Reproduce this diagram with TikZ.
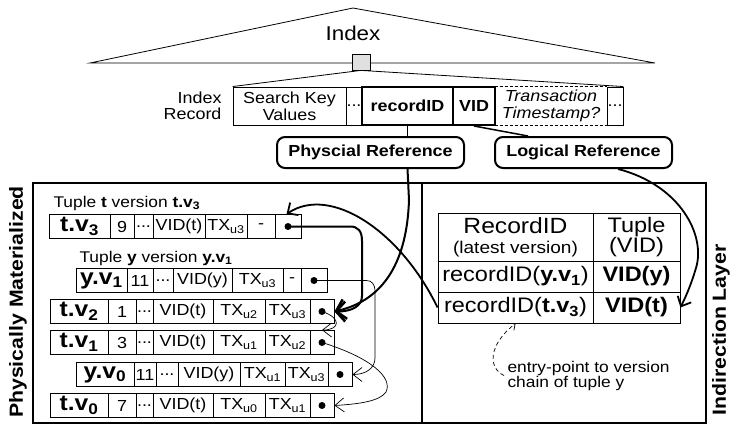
\documentclass[tikz,border=0pt]{standalone}
\usepackage{fontspec}
\setmainfont[FakeStretch=1.12]{Liberation Sans}
\usetikzlibrary{arrows.meta,calc}
\newcommand\tv[2]{{\fontsize{22}{22}\selectfont\textbf{#1.v\textsubscript{#2}}}}
\newcommand\txs[1]{TX\textsubscript{#1}}
\newcommand\dts{.{}.{}.}
\newcommand\tuplerow[3]{%
  \foreach \xa/\xb/\txt [count=\i] in {#3} {
    \node[cell, minimum width={(\xb-\xa)*1pt}] (#1-\i) at ({(\xa+\xb)/2},#2) {\txt};
  }
  \node[dotn] (#1dot) at (#1-7.center) {};
}
\begin{document}
\begin{tikzpicture}[x=1pt,y=-1pt,
  cell/.style={draw, line width=0.9pt, inner sep=0pt, minimum height=24pt, font=\fontsize{16}{18}\selectfont},
  rec/.style={draw, line width=0.9pt, inner sep=0pt, minimum height=38pt, align=center, font=\fontsize{16}{17}\selectfont},
  thickrec/.style={rec, line width=2pt, font=\bfseries\fontsize{16}{17}\selectfont},
  refbox/.style={draw, line width=2pt, rounded corners=8pt, inner sep=0pt, minimum height=31pt, font=\bfseries\fontsize{16}{17}\selectfont},
  tcell/.style={draw, line width=0.9pt, inner sep=0pt, minimum height=31pt, font=\fontsize{21}{21}\selectfont},
  dotn/.style={circle, fill, inner sep=0pt, minimum size=7pt},
  bigptr/.style={line width=2pt, -{Straight Barb[length=9pt,width=20pt,line width=2.5pt]}},
  midptr/.style={line width=1.8pt, -{Straight Barb[length=8pt,width=15pt,line width=1.8pt]}},
  thinptr/.style={line width=0.7pt, -{Straight Barb[length=9pt,width=14pt,line width=0.7pt]}},
  dashptr/.style={line width=0.7pt, dash pattern=on 4pt off 3pt, -{Straight Barb[length=5pt,width=9pt,line width=0.7pt]}},
  sidelabel/.style={rotate=90, font=\bfseries\fontsize{19}{19}\selectfont}
]
\useasboundingbox (0,0) rectangle (737,424);

% ---- Index triangle ----
\draw[line width=0.8pt] (90,63) -- (353,8) -- (655,63) -- cycle;
\node[font=\fontsize{20}{20}\selectfont] (idx) at (353,33) {Index};
\node[draw, fill=black!12, line width=0.8pt, inner sep=0pt, minimum width=18pt, minimum height=16pt] (sq) at (361,62) {};

% ---- Index record ----
\node[anchor=east, align=right, font=\fontsize{16}{16}\selectfont] (irl) at (225,106) {Index\\Record};
\node[rec, minimum width=113pt] (sk) at (289.5,106) {Search Key\\Values};
\node[rec, minimum width=16pt] (d1) at (354,106) {\dts};
\node[rec, draw=none, minimum width=112pt, font=\itshape\fontsize{16}{17}\selectfont] (ts) at (551,106) {Transaction\\Timestamp?};
\draw[line width=0.9pt, dash pattern=on 3pt off 2pt] (ts.north west) -- (ts.north east);
\draw[line width=0.9pt, dash pattern=on 3pt off 2pt] (ts.south west) -- (ts.south east);
\node[rec, minimum width=16pt] (d2) at (615,106) {\dts};
\node[thickrec, minimum width=91pt] (rid) at (407.5,106) {recordID};
\node[thickrec, minimum width=42pt] (vid) at (474,106) {VID};
\draw[line width=0.8pt] (sq.south) -- (sk.north west);
\draw[line width=0.8pt] (sq.south) -- (d2.north east);

% ---- Reference boxes ----
\node[refbox, minimum width=187pt] (phys) at (370.5,152.5) {Physcial Reference};
\node[refbox, minimum width=177pt] (logi) at (583.5,152.5) {Logical Reference};
\draw[line width=1.5pt] (rid.south) -- (rid.south |- phys.north);
\draw[line width=1.5pt] (vid.south) -- ([xshift=-55.5pt]logi.north);

% ---- Frames ----
\draw[line width=2pt] (33,183) rectangle (422,423);
\draw[line width=2pt] (422,183) rectangle (706,423);
\node[sidelabel] (pm) at (18,302) {Physically Materialized};
\node[sidelabel] (il) at (721,330) {Indirection Layer};

% ---- Tuples ----
\node[anchor=west, font=\fontsize{15.5}{16}\selectfont] (cap3) at (50,203) {Tuple \textbf{t} version \textbf{t.v\textsubscript{3}}};
\node[anchor=west, font=\fontsize{15.5}{16}\selectfont] (capy) at (76,258) {Tuple \textbf{y} version \textbf{y.v\textsubscript{1}}};

\tuplerow{r3}{226.5}{49/110/{\tv{t}{3}}, 110/134/9, 134/153/{\dts}, 153/205/VID(t), 205/247/{\txs{u3}}, 247/275/-, 275/301/{}}
\tuplerow{r1y}{280.5}{76/127/{\tv{y}{1}}, 127/153/11, 153/173/{\dts}, 173/232/VID(y), 232/283/{\txs{u3}}, 283/301/-, 301/327/{}}
\tuplerow{r2}{311.5}{50/108/{\tv{t}{2}}, 108/136/1, 136/153/{\dts}, 153/213/VID(t), 213/265/{\txs{u2}}, 265/310/{\txs{u3}}, 310/334/{}}
\tuplerow{r1}{342.5}{50/108/{\tv{t}{1}}, 108/136/3, 136/153/{\dts}, 153/213/VID(t), 213/265/{\txs{u1}}, 265/310/{\txs{u2}}, 310/334/{}}
\tuplerow{r0y}{374.5}{76/134/{\tv{y}{0}}, 134/156/11, 156/178/{\dts}, 178/240/VID(y), 240/285/{\txs{u1}}, 285/328/{\txs{u3}}, 328/352/{}}
\tuplerow{r0}{405.5}{50/108/{\tv{t}{0}}, 108/136/7, 136/153/{\dts}, 153/213/VID(t), 213/265/{\txs{u0}}, 265/310/{\txs{u1}}, 310/334/{}}

% ---- Indirection table ----
\node[tcell, minimum width=155pt, minimum height=48pt, align=center, font=\fontsize{22}{20}\selectfont] (th1) at (515.5,237) {RecordID\\{\fontsize{17}{17}\selectfont (latest version)}};
\node[tcell, minimum width=87pt, minimum height=48pt, align=center, font=\fontsize{21}{20}\selectfont] (th2) at (636.5,237) {Tuple\\(VID)};
\node[tcell, minimum width=155pt] (tb1l) at (515.5,276.5) {recordID(\textbf{y.v\textsubscript{1}})};
\node[tcell, minimum width=87pt] (tb1r) at (636.5,276.5) {\textbf{VID(y)}};
\node[tcell, minimum width=155pt] (tb2l) at (515.5,307.5) {recordID(\textbf{t.v\textsubscript{3}})};
\node[tcell, minimum width=87pt] (tb2r) at (636.5,307.5) {\textbf{VID(t)}};
\node[anchor=west, align=left, font=\fontsize{15.5}{15}\selectfont] (entry) at (504,375.5) {entry-point to version\\chain of tuple y};

% ---- Connectors ----
\draw[bigptr] (r3dot.center) -- (350,226.5) .. controls (358,226.5) and (362,231) .. (362,241) -- (362,296) .. controls (362,306) and (352,311.5) .. (r2-7.east);
\draw[bigptr] (phys.south -| rid.south) -- (409,200) .. controls (407,260) and (385,300) .. (r2-7.east);
\draw[midptr] ([xshift=34.5pt]logi.south) .. controls (680,185) and (706,235) .. (696,268) .. controls (690,288) and (685,298) .. (tb2r.east);
\draw[midptr] (tb2l.west) .. controls (400,230) and (330,185) .. ([xshift=12pt]r3-7.north west);
\draw[thinptr] (r1ydot.center) -- (366,280.5) .. controls (372,280.5) and (375,284) .. (375,292) -- (375,358) .. controls (375,368) and (366,374.5) .. (r0y-7.east);
\draw[thinptr] (r2dot.center) .. controls (342,318) and (340,330) .. (r1-7.north);
\draw[thinptr] (r1dot.center) .. controls (372,358) and (393,378) .. (386,392) .. controls (380,401) and (360,404) .. (r0-7.east);
\draw[dashptr] (entry.west) .. controls (488,368) and (488,345) .. (tb2l.south);
\end{tikzpicture}
\end{document}
